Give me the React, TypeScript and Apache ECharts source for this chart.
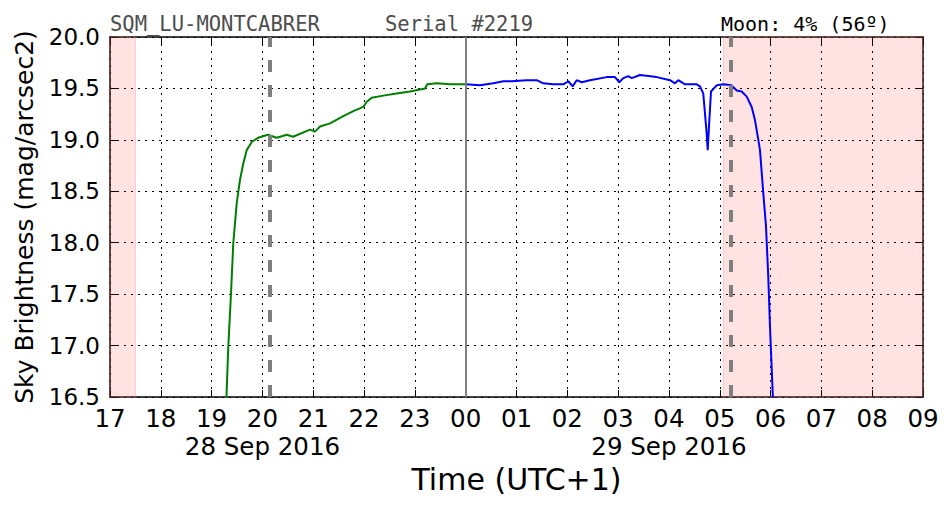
import React, { useEffect, useRef } from "react";
import * as echarts from "echarts";

// Time in hours since 00:00 of 28 Sep 2016 (UTC+1); values >24 are on 29 Sep
const greenHours = [19.27, 19.328, 19.375, 19.427, 19.493, 19.558, 19.623, 19.69, 19.789, 19.913, 20.11, 20.281, 20.478, 20.602, 20.936, 21.034, 21.133, 21.33, 21.591, 21.788, 21.985, 22.052, 22.15, 22.379, 22.642, 22.904, 23.199, 23.245, 23.43, 23.691, 24.0];
const greenValues = [16.2, 16.99, 17.44, 18.0, 18.38, 18.61, 18.77, 18.9, 18.98, 19.02, 19.05, 19.02, 19.05, 19.03, 19.1, 19.08, 19.13, 19.16, 19.23, 19.28, 19.32, 19.37, 19.41, 19.43, 19.45, 19.47, 19.5, 19.54, 19.55, 19.54, 19.54];

const blueHours = [24.0, 24.282, 24.543, 24.74, 24.905, 25.201, 25.398, 25.527, 25.724, 25.921, 26.02, 26.106, 26.185, 26.283, 26.447, 26.775, 26.939, 27.023, 27.102, 27.2, 27.267, 27.43, 27.759, 28.021, 28.119, 28.184, 28.316, 28.546, 28.611, 28.676, 28.743, 28.763, 28.788, 28.828, 28.94, 29.07, 29.235, 29.333, 29.432, 29.531, 29.629, 29.694, 29.759, 29.792, 29.857, 29.91, 29.955, 29.989, 30.042, 30.068];
const blueValues = [19.54, 19.53, 19.55, 19.57, 19.57, 19.58, 19.58, 19.55, 19.54, 19.54, 19.57, 19.52, 19.58, 19.56, 19.58, 19.61, 19.61, 19.56, 19.6, 19.62, 19.6, 19.63, 19.61, 19.58, 19.55, 19.58, 19.54, 19.54, 19.52, 19.45, 19.06, 18.9, 19.13, 19.47, 19.53, 19.54, 19.53, 19.48, 19.47, 19.42, 19.32, 19.19, 19.0, 18.9, 18.48, 18.16, 17.67, 17.18, 16.54, 16.3];

const twilightBands = [
  [17.0, 17.5],
  [29.07, 33.0],
];
const dashedMarkers = [20.15, 29.21];
const midnightHour = 24;
const dateLabels = [
  { hour: 20, text: "28 Sep 2016" },
  { hour: 28, text: "29 Sep 2016" },
];
const xMin = 17;
const xMax = 33;
const yMin = 16.5;
const yMax = 20.0;

const stationText = "SQM_LU-MONTCABRER";
const serialText = "Serial #2219";
const moonText = "Moon: 4% (56º)";

const SANS = "DejaVu Sans";
const MONO = "DejaVu Sans Mono";

function zip(xs: number[], ys: number[]) {
  return xs.map((x, i) => [x, ys[i]]);
}

export default function App() {
  const ref = useRef<HTMLDivElement>(null);

  useEffect(() => {
    if (!ref.current) return;
    const chart = echarts.init(ref.current, null, { renderer: "svg" });

    const tickLabel = (v: number) => {
      const h = ((Math.round(v) % 24) + 24) % 24;
      const s = h < 10 ? "0" + h : String(h);
      const d = dateLabels.find((dl) => dl.hour === Math.round(v));
      return d ? s + "\n" + d.text : s;
    };

    const frameLine = { show: true, lineStyle: { color: "#000", width: 1.5 } };
    const innerTick = { show: true, inside: true, length: 7, lineStyle: { color: "#000", width: 1 } };
    const dotted = { show: true, lineStyle: { color: "#000", width: 1, type: [2, 5] as any } };

    chart.setOption({
      animation: false,
      backgroundColor: "#fff",
      grid: { left: 110, right: 29, top: 37, bottom: 115, containLabel: false },
      graphic: [
        {
          type: "text",
          x: 110,
          y: 23.5,
          z: 100,
          style: { text: stationText, font: `20.5px "${MONO}"`, fill: "#4d4d4d", align: "left", verticalAlign: "middle" },
        },
        {
          type: "text",
          x: 385,
          y: 23.5,
          z: 100,
          style: { text: serialText, font: `20.5px "${MONO}"`, fill: "#4d4d4d", align: "left", verticalAlign: "middle" },
        },
        {
          type: "text",
          x: 721,
          y: 23.5,
          z: 100,
          style: { text: moonText, font: `20px "${MONO}"`, fill: "#000", align: "left", verticalAlign: "middle" },
        },
      ],
      xAxis: [
        {
          type: "value",
          min: xMin,
          max: xMax,
          interval: 1,
          position: "bottom",
          axisLine: frameLine,
          axisTick: innerTick,
          splitLine: dotted,
          axisLabel: {
            formatter: tickLabel,
            fontFamily: SANS,
            fontSize: 24.5,
            color: "#000",
            margin: 7,
            lineHeight: 28,
            showMinLabel: true,
            showMaxLabel: true,
          },
          name: "Time (UTC+1)",
          nameLocation: "middle",
          nameGap: 66,
          nameTextStyle: { fontFamily: SANS, fontSize: 30, color: "#000" },
        },
        {
          type: "value",
          min: xMin,
          max: xMax,
          interval: 1,
          position: "top",
          axisLine: frameLine,
          axisTick: innerTick,
          axisLabel: { show: false },
          splitLine: { show: false },
        },
      ],
      yAxis: [
        {
          type: "value",
          min: yMin,
          max: yMax,
          interval: 0.5,
          position: "left",
          axisLine: frameLine,
          axisTick: innerTick,
          splitLine: dotted,
          axisLabel: {
            formatter: (v: number) => v.toFixed(1),
            fontFamily: SANS,
            fontSize: 23,
            color: "#000",
            margin: 10,
          },
          name: "Sky Brightness (mag/arcsec2)",
          nameLocation: "middle",
          nameRotate: 90,
          nameGap: 73,
          nameTextStyle: { fontFamily: SANS, fontSize: 25, color: "#000" },
        },
        {
          type: "value",
          min: yMin,
          max: yMax,
          interval: 0.5,
          position: "right",
          axisLine: frameLine,
          axisTick: innerTick,
          axisLabel: { show: false },
          splitLine: { show: false },
        },
      ],
      series: [
        {
          name: "bands",
          type: "line",
          data: [],
          silent: true,
          markArea: {
            silent: true,
            itemStyle: { color: "rgba(255,0,0,0.11)", borderColor: "rgba(255,120,120,0.35)", borderWidth: 1 },
            data: twilightBands.map((b) => [{ xAxis: b[0] }, { xAxis: b[1] }]),
          },
        },
        {
          name: "dusk",
          type: "line",
          data: zip(greenHours, greenValues),
          showSymbol: false,
          symbol: "none",
          clip: true,
          lineStyle: { color: "#008000", width: 2 },
          z: 3,
        },
        {
          name: "night",
          type: "line",
          data: zip(blueHours, blueValues),
          showSymbol: false,
          symbol: "none",
          clip: true,
          lineStyle: { color: "#0000ff", width: 2 },
          z: 3,
        },
        {
          name: "markers",
          type: "line",
          data: [],
          silent: true,
          z: 4,
          markLine: {
            silent: true,
            symbol: ["none", "none"],
            label: { show: false },
            data: [
              ...dashedMarkers.map((h) => ({
                xAxis: h,
                lineStyle: { color: "#7f7f7f", width: 4, type: [12, 13] as any },
              })),
              { xAxis: midnightHour, lineStyle: { color: "#7f7f7f", width: 2, type: "solid" } },
            ],
          },
        },
      ],
    });

    return () => chart.dispose();
  }, []);

  return <div ref={ref} style={{ width: 952, height: 512, position: "absolute", left: 0, top: 0 }} />;
}
